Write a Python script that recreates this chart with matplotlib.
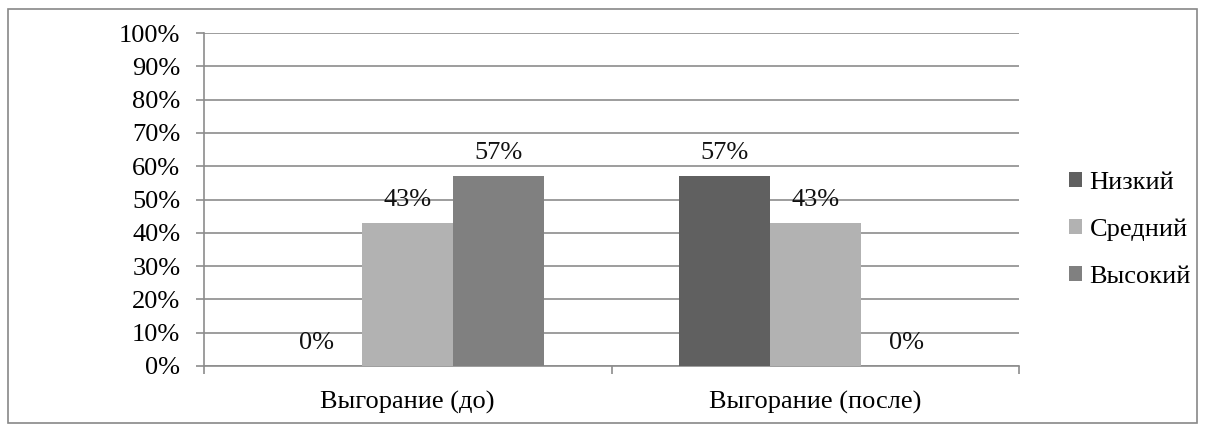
import matplotlib
matplotlib.use("Agg")
import matplotlib.pyplot as plt
from matplotlib.patches import Rectangle
import numpy as np

plt.rcParams['font.family'] = ['Liberation Serif', 'DejaVu Serif']

categories = ["Выгорание (до)", "Выгорание (после)"]
series_names = ["Низкий", "Средний", "Высокий"]
low = [0, 57]
mid = [43, 43]
high = [57, 0]
colors = ["#606060", "#b2b2b2", "#808080"]
y_ticks = list(range(0, 101, 10))
y_labels = [f"{v}%" for v in y_ticks]

W, H = 1205, 432
FS = 19
fig = plt.figure(figsize=(W / 100, H / 100), dpi=100)

# outer frame of the chart area
fig.add_artist(Rectangle((8 / W, 9 / H), (1197 - 8) / W, (423 - 9) / H,
                         transform=fig.transFigure, fill=False,
                         edgecolor="#888888", linewidth=1.2))

ax = fig.add_axes([204 / W, 1 - 366 / H, (1019 - 204) / W, (366 - 33) / H])

grid_color = "#8c8c8c"
x = np.arange(len(categories))
bw = 0.2235
values = [low, mid, high]
for i, (name, vals, col) in enumerate(zip(series_names, values, colors)):
    pos = x + (i - 1) * bw
    ax.bar(pos, vals, width=bw, color=col, label=name, zorder=3)
    for p, v in zip(pos, vals):
        ax.annotate(f"{v}%", (p, v), xytext=(0, 8.5), textcoords="offset points",
                    ha="center", va="bottom", fontsize=FS, color="#111111")

ax.set_xlim(-0.5, 1.5)
ax.set_ylim(0, 100)
ax.set_yticks(y_ticks)
ax.set_yticklabels(y_labels, fontsize=FS)
ax.yaxis.grid(True, color=grid_color, linewidth=1.2, zorder=0)
ax.set_axisbelow(True)

# category labels centred, tick marks at category boundaries
ax.set_xticks([-0.5, 0.5, 1.5])
ax.set_xticklabels([])
ax.set_xticks(x, minor=True)
ax.set_xticklabels(categories, minor=True, fontsize=FS)
ax.tick_params(axis="x", which="minor", length=0, pad=18)
ax.tick_params(axis="x", which="major", length=6, width=1.2, color=grid_color)
ax.tick_params(axis="y", length=6, width=1.2, color=grid_color, pad=11)

for side in ["top", "right"]:
    ax.spines[side].set_visible(False)
for side in ["left", "bottom"]:
    ax.spines[side].set_color(grid_color)
    ax.spines[side].set_linewidth(1.2)

leg = fig.legend(loc="center left", bbox_to_anchor=(1058 / W, 1 - 230 / H),
                 frameon=False, fontsize=FS, handlelength=0.5, handleheight=0.5,
                 handletextpad=0.3, labelspacing=0.95, borderaxespad=0)

fig.savefig("out.png", dpi=100)
